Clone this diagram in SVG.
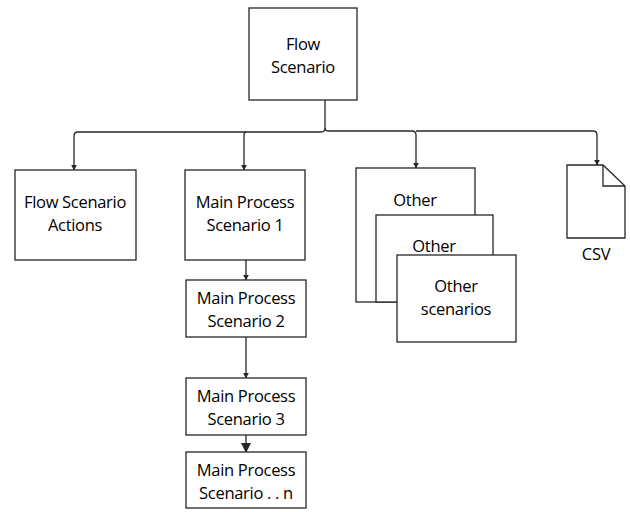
<svg xmlns="http://www.w3.org/2000/svg" width="630" height="512" viewBox="0 0 630 512">
<style>
.b{fill:#fff;stroke:#262626;stroke-width:1.3}
.t{font-family:"Open Sans","Liberation Sans",sans-serif;font-size:16.5px;fill:#000;text-anchor:middle;letter-spacing:-0.3px}
.c{fill:none;stroke:#262626;stroke-width:1.3}
</style>
<defs><marker id="a" viewBox="0 0 10 10" refX="9" refY="5" markerWidth="6" markerHeight="6" orient="auto" markerUnits="userSpaceOnUse"><path d="M0,0L10,5L0,10z" fill="#262626"/></marker>
<marker id="a2" viewBox="0 0 10 10" refX="9" refY="5" markerWidth="10" markerHeight="10" orient="auto" markerUnits="userSpaceOnUse"><path d="M0,0L10,5L0,10z" fill="#262626"/></marker></defs>
<rect width="630" height="512" fill="#fff"/>
<g id="connectors">
<path class="c" d="M325,100V128q0,4 -4,4H78q-4,0 -4,4V170" marker-end="url(#a)"/>
<path class="c" d="M246,132q-2,0 -2,4V170" marker-end="url(#a)"/>
<path class="c" d="M325,128q0,3 4,3H412q4,0 4,4V168" marker-end="url(#a)"/>
<path class="c" d="M416,131H593q4,0 4,4V165" marker-end="url(#a)"/>
<path class="c" d="M246,260V280" marker-end="url(#a)"/>
<path class="c" d="M246,337V378" marker-end="url(#a)"/>
<path class="c" d="M246,435V452" marker-end="url(#a2)"/>
</g>
<g id="flow"><rect class="b" x="249" y="8" width="108" height="92"/><text class="t" x="303" y="50">Flow</text><text class="t" x="303" y="73">Scenario</text></g>
<g id="actions"><rect class="b" x="15" y="170" width="121" height="90"/><text class="t" x="75" y="208">Flow Scenario</text><text class="t" x="75" y="231">Actions</text></g>
<g id="main1"><rect class="b" x="185" y="170" width="120" height="90"/><text class="t" x="245" y="208">Main Process</text><text class="t" x="245" y="231">Scenario 1</text></g>
<g id="main2"><rect class="b" x="186" y="280" width="120" height="57"/><text class="t" x="246" y="304">Main Process</text><text class="t" x="246" y="327">Scenario 2</text></g>
<g id="main3"><rect class="b" x="186" y="378" width="120" height="57"/><text class="t" x="246" y="402">Main Process</text><text class="t" x="246" y="425">Scenario 3</text></g>
<g id="mainn"><rect class="b" x="186" y="452" width="120" height="56"/><text class="t" x="246" y="476">Main Process</text><text class="t" x="246" y="499">Scenario . . n</text></g>
<g id="other1"><rect class="b" x="356" y="168" width="119" height="134"/><text class="t" x="415" y="206">Other</text></g>
<g id="other2"><rect class="b" x="376" y="215" width="117" height="87"/><text class="t" x="434" y="252">Other</text></g>
<g id="other3"><rect class="b" x="397" y="255" width="119" height="87"/><text class="t" x="456" y="292">Other</text><text class="t" x="456" y="315">scenarios</text></g>
<g id="csv"><path class="b" d="M567,165H603L625,186V238H567Z"/><path class="c" d="M603,165V186H625"/><text class="t" x="596" y="260">CSV</text></g>
</svg>
